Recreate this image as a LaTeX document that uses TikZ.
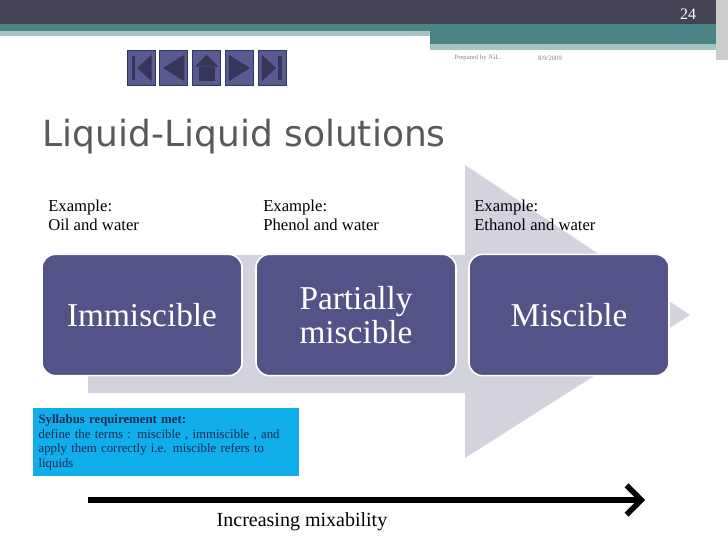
\documentclass[tikz,border=0pt]{standalone}
\usepackage{fontspec}
\setmainfont{Liberation Serif}
\newfontfamily\titlefont{DejaVu Sans}
\usetikzlibrary{positioning, arrows.meta}
\definecolor{barDark}{HTML}{434355}
\definecolor{barTeal}{HTML}{4A8486}
\definecolor{barLight}{HTML}{A3C3C4}
\definecolor{navFill}{HTML}{5A5A92}
\definecolor{navIcon}{HTML}{36365A}
\definecolor{stepFill}{HTML}{545388}
\definecolor{chevron}{HTML}{D3D3DE}
\definecolor{noteFill}{HTML}{10AEEA}
\definecolor{noteText}{HTML}{1A2A50}
\tikzset{
  stage/.style={rounded corners=10pt, fill=stepFill, draw=white, line width=1.2pt,
    minimum width=150pt, minimum height=91pt, text=white, align=center,
    font=\fontsize{25}{25}\selectfont},
  navbtn/.style={fill=navFill, draw=navIcon, line width=0.6pt,
    minimum width=21pt, minimum height=26pt, inner sep=0pt},
  example/.style={anchor=north west, align=left, inner sep=0pt,
    font=\fontsize{12.5}{14}\selectfont}
}
\begin{document}
\begin{tikzpicture}[x=0.75pt, y=-0.75pt]
  \useasboundingbox (0,0) rectangle (728,546);
  % header bars
  \fill[barDark] (0,0) rectangle (728,24);
  \fill[barTeal] (0,24) rectangle (728,36);
  \fill[barLight] (0,31) rectangle (430,36);
  \fill[barTeal] (430,36) rectangle (728,44);
  \fill[barLight] (430,44) rectangle (720,50);
  \fill[gray!40] (716,0) rectangle (728,60);
  \node[text=white, font=\fontsize{12}{12}\selectfont] (page) at (688,14) {24};
  % navigation
  \node[navbtn] (first) at (141,68) {};
  \node[navbtn, right=3pt of first] (prev) {};
  \node[navbtn, right=3pt of prev] (home) {};
  \node[navbtn, right=3pt of home] (next) {};
  \node[navbtn, right=3pt of next] (last) {};
  \fill[navIcon] ([xshift=-7pt,yshift=-9pt]first.center) rectangle ++(2.5pt,18pt);
  \fill[navIcon] ([xshift=-3pt]first.center) -- ([xshift=8pt,yshift=10pt]first.center) -- ([xshift=8pt,yshift=-10pt]first.center) -- cycle;
  \fill[navIcon] ([xshift=-8pt]prev.center) -- ([xshift=8pt,yshift=10pt]prev.center) -- ([xshift=8pt,yshift=-10pt]prev.center) -- cycle;
  \fill[navIcon] ([yshift=10pt]home.center) -- ([xshift=9pt,yshift=1pt]home.center) -- ([xshift=-9pt,yshift=1pt]home.center) -- cycle;
  \fill[navIcon] ([xshift=-6pt,yshift=1pt]home.center) rectangle ([xshift=6pt,yshift=-10pt]home.center);
  \fill[navIcon] ([xshift=8pt]next.center) -- ([xshift=-8pt,yshift=10pt]next.center) -- ([xshift=-8pt,yshift=-10pt]next.center) -- cycle;
  \fill[navIcon] ([xshift=3pt]last.center) -- ([xshift=-8pt,yshift=10pt]last.center) -- ([xshift=-8pt,yshift=-10pt]last.center) -- cycle;
  \fill[navIcon] ([xshift=4.5pt,yshift=-9pt]last.center) rectangle ++(2.5pt,18pt);
  \node[text=gray, font=\fontsize{5}{5}\selectfont] (prep) at (478,58) {Prepared by JGL.};
  \node[text=gray, font=\fontsize{5}{5}\selectfont] (date) at (550,58) {8/9/2009};
  % title
  \node[anchor=west, text=black!65, font=\titlefont\fontsize{27}{28}\selectfont] (title) at (38,137) {Liquid-Liquid solutions};
  % chevron
  \fill[chevron] (88,255) -- (465,255) -- (465,165) -- (690,315) -- (465,458) -- (465,393) -- (88,393) -- cycle;
  % stages
  \node[stage] (immis) at (142,315) {Immiscible};
  \node[stage] (partial) at (356,315) {Partially\\miscible};
  \node[stage] (mis) at (569,315) {Miscible};
  \node[example] (ex1) at (48,200) {Example:\\Oil and water};
  \node[example] (ex2) at (263,200) {Example:\\Phenol and water};
  \node[example] (ex3) at (474,200) {Example:\\Ethanol and water};
  % note
  \node[anchor=north west, fill=noteFill, text=noteText, minimum width=199pt, minimum height=51pt,
    text width=191pt, inner sep=3pt, align=left, font=\fontsize{9.6}{11}\selectfont] (note) at (33,408)
    {\textbf{Syllabus requirement met:}\\define the terms : miscible , immiscible , and\\apply them correctly i.e. miscible refers to\\liquids};
  % axis
  \coordinate (axisStart) at (88,500);
  \coordinate (axisEnd) at (645,500);
  \draw[line width=4.5pt, -{Straight Barb[length=11pt, width=22pt, line width=4pt]}] (axisStart) -- (axisEnd);
  \node[font=\fontsize{15}{16}\selectfont] (axisLabel) at (302,522) {Increasing mixability};
\end{tikzpicture}
\end{document}
